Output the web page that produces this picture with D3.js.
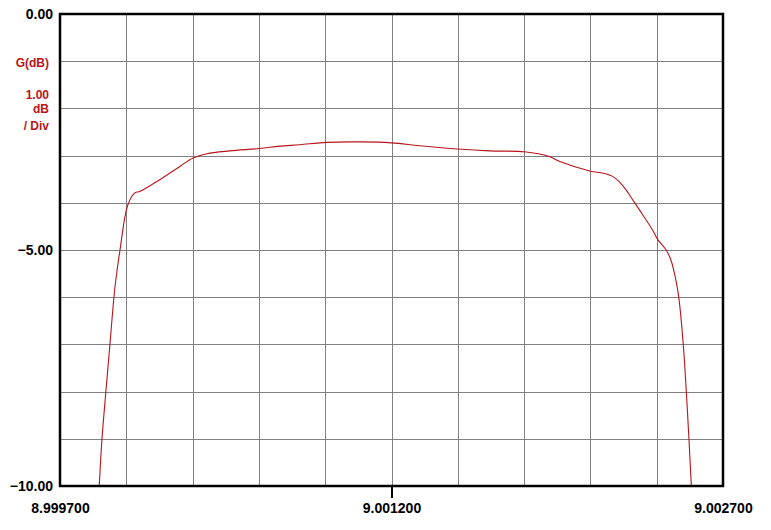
<!DOCTYPE html>
<html>
<head>
<meta charset="utf-8">
<script src="https://cdn.jsdelivr.net/npm/d3@7"></script>
<style>
  html, body { margin: 0; padding: 0; background: #fff; }
  svg { display: block; }
  .lbl { font-family: "Liberation Sans", Arial, sans-serif; font-weight: bold; font-size: 14px; }
  .note { font-size: 12px; }
</style>
</head>
<body>
<svg id="chart" width="771" height="530"></svg>
<script>
// frequency in MHz, gain in dB
var freq = [8.9998776, 8.9998898, 8.9999078, 8.9999259, 8.999944, 8.999953, 8.9999711,
  9.0000072, 9.0000389, 9.0000614, 9.0001518, 9.0002422, 9.0003023, 9.0003642, 9.0004681,
  9.0006036, 9.000694, 9.0007843, 9.0009063, 9.0010554, 9.0012, 9.0013265, 9.0014982,
  9.0016428, 9.0018009, 9.0019139, 9.001959, 9.0021005, 9.0021546, 9.0021998, 9.0022301,
  9.0022604, 9.0022903, 9.0023204, 9.0023805, 9.0024049, 9.0024411, 9.0024636, 9.0024862,
  9.0025012, 9.0025206, 9.0025342, 9.0025463, 9.0025567];
var gain = [-10.00, -9.01, -7.99, -7.00, -6.00, -5.62, -5.01,
  -4.04, -3.79, -3.76, -3.51, -3.23, -3.05, -2.96, -2.90,
  -2.85, -2.80, -2.77, -2.72, -2.71, -2.73, -2.79, -2.86,
  -2.90, -2.92, -3.02, -3.12, -3.33, -3.37, -3.44, -3.55,
  -3.72, -3.93, -4.14, -4.57, -4.78, -4.99, -5.20, -5.62,
  -6.05, -7.03, -8.02, -9.04, -9.99];
var xTicks = [8.9997, 9.0012, 9.0027];
var yTicks = [0, -5, -10];
var yNote = ["G(dB)", "1.00", "dB", "/ Div"];

var svg, W, H, m, x, y, g, pts, line;
svg = d3.select('#chart');
W = 771; H = 530;
m = {left: 60, right: 48, top: 14, bottom: 44};
x = d3.scaleLinear().domain([8.9997, 9.0027]).range([m.left, W - m.right]);
y = d3.scaleLinear().domain([-10, 0]).range([H - m.bottom, m.top]);

g = svg.append('g').attr('class', 'grid');
// 10 divisions each way
g.selectAll('line.v').data(d3.range(1, 10)).enter().append('line')
  .attr('x1', function(d){ return Math.round(x(8.9997 + d * 0.0003)) + 0.5; })
  .attr('x2', function(d){ return Math.round(x(8.9997 + d * 0.0003)) + 0.5; })
  .attr('y1', y(0)).attr('y2', y(-10))
  .attr('stroke', '#808080').attr('stroke-width', 1);
g.selectAll('line.h').data(d3.range(1, 10)).enter().append('line')
  .attr('y1', function(d){ return Math.round(y(-d)) + 0.5; })
  .attr('y2', function(d){ return Math.round(y(-d)) + 0.5; })
  .attr('x1', x(8.9997)).attr('x2', x(9.0027))
  .attr('stroke', '#808080').attr('stroke-width', 1);

pts = freq.map(function(f, i){ return {x: f, y: gain[i]}; });
line = d3.line().curve(d3.curveCatmullRom.alpha(0.5))
  .x(function(d){ return x(d.x); })
  .y(function(d){ return y(d.y); });
svg.append('path').datum(pts)
  .attr('d', line)
  .attr('fill', 'none')
  .attr('stroke', '#b8141c')
  .attr('stroke-width', 1.1);

// frame
svg.append('rect')
  .attr('x', x(8.9997)).attr('y', y(0))
  .attr('width', x(9.0027) - x(8.9997)).attr('height', y(-10) - y(0))
  .attr('fill', 'none').attr('stroke', '#000').attr('stroke-width', 2.5);

// y axis labels
var yAxis = d3.axisLeft(y).tickValues(yTicks).tickSize(0).tickPadding(7)
  .tickFormat(d3.format('.2f'));
svg.append('g').attr('transform', 'translate(' + x(8.9997) + ',0)').call(yAxis)
  .call(function(s){
    s.select('.domain').remove();
    s.selectAll('text').attr('class', 'lbl').attr('fill', '#000')
      .attr('font-family', null).attr('font-size', null);
  });

// x axis labels
var xAxis = d3.axisBottom(x).tickValues(xTicks).tickSize(12).tickPadding(4)
  .tickFormat(d3.format('.6f'));
svg.append('g').attr('transform', 'translate(0,' + y(-10) + ')').call(xAxis)
  .call(function(s){
    s.select('.domain').remove();
    s.selectAll('.tick line').attr('stroke', '#000').attr('stroke-width', 2)
      .attr('opacity', function(d){ return d === 9.0012 ? 1 : 0; });
    s.selectAll('.tick text').attr('class', 'lbl').attr('fill', '#000')
      .attr('font-family', null).attr('font-size', null)
      .attr('dy', '0.71em').attr('y', 17);
  });

// unit note
svg.selectAll('text.note').data(yNote).enter().append('text')
  .attr('class', 'lbl note')
  .attr('x', 49)
  .attr('y', function(d, i){ return [67, 99, 113, 130][i]; })
  .attr('text-anchor', 'end')
  .attr('fill', '#b8141c')
  .text(function(d){ return d; });
</script>
</body>
</html>
